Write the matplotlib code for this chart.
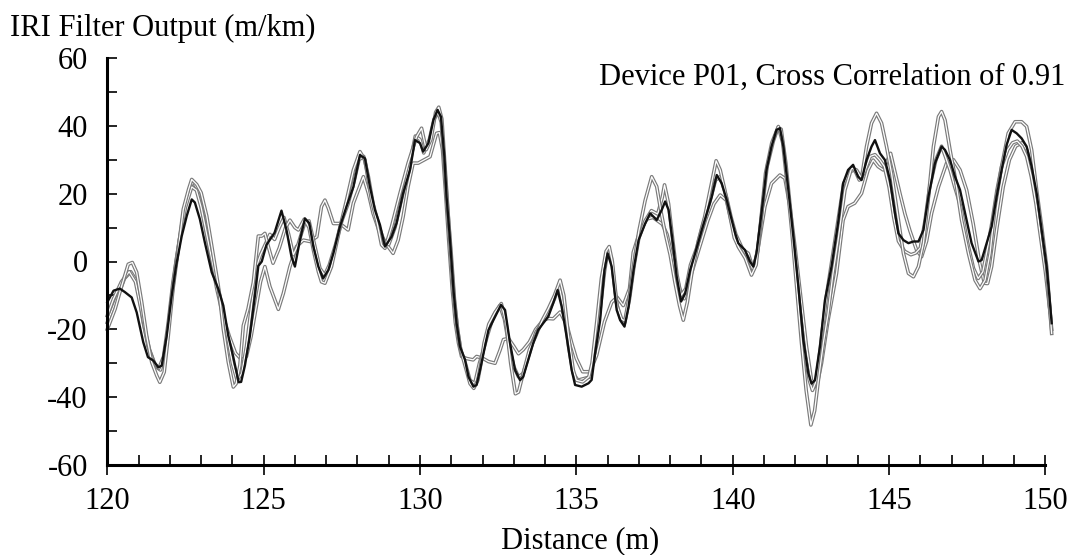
import matplotlib
matplotlib.use("Agg")
import matplotlib.pyplot as plt
import matplotlib.patheffects as pe
from matplotlib.ticker import MultipleLocator

# ---------------- data ----------------
dist_ref = [120.0, 120.2, 120.4, 120.56, 120.78, 120.94, 121.15, 121.3, 121.47, 121.63, 121.74, 121.9,
            122.06, 122.2, 122.38, 122.54, 122.7, 122.8, 122.96, 123.12, 123.34, 123.55, 123.71, 123.87,
            124.03, 124.2, 124.28, 124.4, 124.56, 124.72, 124.83, 124.94, 125.09, 125.35, 125.57, 125.73,
            125.89, 126.0, 126.16, 126.32, 126.46, 126.59, 126.75, 126.9, 127.07, 127.23, 127.44, 127.65,
            127.87, 128.08, 128.24, 128.4, 128.56, 128.72, 128.88, 129.09, 129.25, 129.46, 129.68, 129.84,
            130.0, 130.1, 130.27, 130.43, 130.56, 130.67, 130.78, 130.85, 130.96, 131.07, 131.17, 131.28,
            131.44, 131.55, 131.71, 131.81, 131.92, 132.03, 132.19, 132.4, 132.59, 132.72, 132.88, 133.04,
            133.2, 133.3, 133.46, 133.62, 133.78, 133.94, 134.1, 134.26, 134.4, 134.53, 134.69, 134.85,
            134.96, 135.17, 135.39, 135.49, 135.6, 135.76, 135.9, 136.0, 136.13, 136.29, 136.4, 136.54,
            136.67, 136.83, 136.99, 137.2, 137.36, 137.57, 137.73, 137.84, 137.95, 138.1, 138.21, 138.35,
            138.48, 138.64, 138.8, 139.01, 139.17, 139.33, 139.49, 139.65, 139.81, 139.97, 140.08, 140.18,
            140.39, 140.55, 140.66, 140.76, 140.92, 141.08, 141.24, 141.4, 141.51, 141.62, 141.78, 141.94,
            142.1, 142.26, 142.42, 142.52, 142.63, 142.79, 142.95, 143.16, 143.37, 143.53, 143.69, 143.85,
            144.01, 144.12, 144.28, 144.44, 144.55, 144.71, 144.87, 145.03, 145.19, 145.3, 145.46, 145.62,
            145.78, 145.94, 146.1, 146.26, 146.47, 146.68, 146.79, 146.95, 147.11, 147.27, 147.48, 147.64,
            147.86, 147.96, 148.12, 148.28, 148.44, 148.6, 148.76, 148.92, 149.08, 149.24, 149.4, 149.56,
            149.72, 149.88, 150.04, 150.12, 150.2]
iri_ref = [-12, -8.6, -8, -9, -10.6, -15, -23.8, -28.2, -29.2, -31.2, -30.7, -21.9,
           -10.1, -1.3, 7.5, 13.4, 18.3, 17.4, 12.5, 5.6, -3.2, -8.1, -13, -21.9,
           -28.2, -35.6, -35.5, -30.7, -21.9, -10.1, -1.3, 0, 4.9, 8.5, 15, 9.3,
           1.4, -1.5, 6.3, 12.7, 11.3, 4.4, -1.5, -5, -2.5, 2.4, 10.3, 16.2,
           22, 31.4, 30.4, 22, 15.2, 10.8, 4.4, 7.3, 11.3, 20.1, 27, 35.8,
           34.9, 32.4, 34.9, 41.7, 44.7, 42.7, 30.9, 19.1, 6.3, -8.4, -18.2, -25.1,
           -29, -34, -36.9, -36.4, -32, -27.1, -20.2, -16.3, -12.8, -14.3, -24.1, -32,
           -35, -34, -29, -24.1, -20.2, -18.2, -16.3, -12.3, -8.4, -13.3, -22.2, -32,
           -36.4, -36.9, -35.9, -34.9, -27.1, -17.3, -2.5, 2.4, -1.5, -14.3, -17.3, -19.2,
           -13.3, -2.5, 6.3, 11.2, 14.2, 12.2, 15.2, 17.7, 15.2, 4.4, -4.5, -11.8,
           -9.4, -2.5, 2.4, 9.3, 14.2, 19.1, 25.5, 23, 18.1, 12.2, 8.3, 5.4,
           3.4, 0, -1.5, 2.4, 14.2, 27, 33.9, 38.8, 39.3, 33.9, 21.1, 7.3,
           -7.4, -23.2, -33, -36, -35, -25.1, -11.4, -1.5, 11.3, 23, 27, 28.5,
           25, 24, 29.9, 33.9, 35.8, 31.9, 29.9, 24, 14.2, 8.3, 6.3, 5.4,
           5.9, 5.9, 9.3, 19.1, 29, 33.9, 32.9, 29.9, 25, 21.1, 12.2, 5.4,
           0, 0.4, 5.4, 10.3, 19.1, 27, 34.4, 38.8, 37.8, 36.3, 33.9, 28,
           20.1, 9.3, -1.5, -9.4, -18.2]

dist_run1 = [120.0, 120.25, 120.46, 120.67, 120.8, 120.94, 121.1, 121.26, 121.42, 121.58, 121.68, 121.82,
             121.95, 122.1, 122.27, 122.43, 122.6, 122.7, 122.86, 123.0, 123.18, 123.34, 123.55, 123.71,
             123.87, 124.03, 124.12, 124.24, 124.35, 124.5, 124.67, 124.83, 124.94, 125.04, 125.15, 125.3,
             125.5, 125.7, 125.84, 126.0, 126.11, 126.3, 126.45, 126.6, 126.75, 126.85, 126.96, 127.17,
             127.44, 127.65, 127.87, 128.08, 128.24, 128.45, 128.61, 128.77, 128.88, 129.09, 129.36, 129.62,
             129.89, 130.05, 130.2, 130.35, 130.5, 130.6, 130.7, 130.8, 130.9, 131.0, 131.1, 131.2,
             131.3, 131.45, 131.6, 131.72, 131.85, 131.95, 132.05, 132.2, 132.4, 132.6, 132.75, 132.9,
             133.05, 133.15, 133.3, 133.5, 133.7, 133.9, 134.1, 134.3, 134.48, 134.6, 134.75, 134.9,
             135.0, 135.2, 135.4, 135.5, 135.65, 135.8, 135.95, 136.05, 136.15, 136.3, 136.45, 136.55,
             136.7, 136.85, 137.0, 137.2, 137.41, 137.57, 137.7, 137.85, 138.0, 138.15, 138.3, 138.42,
             138.55, 138.7, 138.9, 139.1, 139.3, 139.47, 139.6, 139.75, 139.9, 140.05, 140.2, 140.4,
             140.6, 140.75, 140.9, 141.05, 141.25, 141.46, 141.6, 141.75, 141.9, 142.05, 142.2, 142.35,
             142.5, 142.62, 142.74, 142.9, 143.05, 143.2, 143.37, 143.59, 143.8, 143.96, 144.12, 144.28,
             144.44, 144.6, 144.76, 144.92, 145.08, 145.3, 145.46, 145.62, 145.78, 145.94, 146.1, 146.26,
             146.42, 146.58, 146.68, 146.79, 146.95, 147.11, 147.32, 147.54, 147.75, 147.91, 148.07, 148.23,
             148.39, 148.6, 148.81, 149.03, 149.24, 149.4, 149.56, 149.72, 149.88, 150.04, 150.2]
iri_run1 = [-20, -14, -7.2, -0.8, -0.3, -3.2, -12, -22, -29.7, -33.6, -35.6, -32.6,
            -21.9, -8.1, 3.6, 15.4, 21.3, 24.2, 22.7, 20.3, 13.4, 4.6, -7.2, -19.9,
            -29.7, -37, -36, -30.7, -18.9, -14, -6.2, 7.5, 7.5, 8.3, 4.4, -0.5,
            4, 10, 12.2, 10, 9.3, 12.5, 10, 3, -3, -6, -6.4, -1.5,
            10, 18.1, 27, 32.4, 29.9, 18.1, 12.2, 4.9, 3.9, 10.3, 20.1, 29,
            36.8, 39.3, 33, 36, 44, 45.5, 42, 28, 14, 0, -12, -20,
            -26, -31, -36, -37.4, -35, -30, -24, -18.5, -15, -12.4, -18, -30,
            -39, -38.5, -33, -26, -22, -17.5, -14, -10, -5.5, -10, -22, -32,
            -35, -35.5, -34, -30, -18, -5, 3, 4.4, 0, -13, -17, -17.5,
            -10, 0, 9, 18, 25, 22.1, 15, 8, 2, -6, -13, -17.3,
            -12, -3, 6, 13, 22, 29.7, 27, 21, 14, 7, 4, 1,
            -4, -1, 12, 26, 35, 39.8, 35, 22, 8, -8, -24, -38,
            -48.2, -44, -35, -24, -15.3, -4, 6.3, 21.1, 27.5, 27, 24.5, 33.9,
            40.8, 43.7, 40.8, 33.9, 26, 12.2, 2.4, -3.5, -4.5, -1.5, 5.4, 19.1,
            33.9, 42.7, 44.2, 41.7, 32.9, 25, 12.2, 2.4, -5.5, -8, -5.5, 2.4,
            16.2, 28, 37.8, 41.2, 41.2, 39.8, 32.9, 21.1, 10.3, -1.5, -21.2]

dist_run2 = [120.0, 120.2, 120.45, 120.7, 120.9, 121.1, 121.3, 121.5, 121.65, 121.8, 121.95, 122.1,
             122.3, 122.5, 122.7, 122.85, 123.0, 123.2, 123.4, 123.6, 123.8, 124.0, 124.15, 124.3,
             124.45, 124.6, 124.75, 124.9, 125.05, 125.2, 125.35, 125.5, 125.65, 125.8, 125.95, 126.1,
             126.3, 126.45, 126.6, 126.8, 126.95, 127.1, 127.3, 127.5, 127.7, 127.9, 128.05, 128.2,
             128.35, 128.5, 128.7, 128.85, 129.0, 129.2, 129.45, 129.7, 129.85, 130.0, 130.12, 130.3,
             130.45, 130.58, 130.68, 130.78, 130.88, 131.0, 131.1, 131.2, 131.3, 131.45, 131.6, 131.75,
             131.9, 132.0, 132.15, 132.35, 132.55, 132.7, 132.85, 133.0, 133.15, 133.3, 133.5, 133.7,
             133.9, 134.1, 134.3, 134.45, 134.6, 134.75, 134.9, 135.05, 135.25, 135.45, 135.6, 135.75,
             135.9, 136.0, 136.12, 136.28, 136.4, 136.55, 136.7, 136.85, 137.0, 137.2, 137.4, 137.6,
             137.75, 137.82, 137.95, 138.1, 138.22, 138.35, 138.5, 138.65, 138.85, 139.05, 139.25, 139.45,
             139.6, 139.8, 139.95, 140.1, 140.3, 140.5, 140.65, 140.8, 140.95, 141.1, 141.3, 141.45,
             141.55, 141.7, 141.85, 142.0, 142.15, 142.3, 142.45, 142.55, 142.68, 142.82, 143.0, 143.2,
             143.4, 143.55, 143.75, 143.9, 144.05, 144.2, 144.4, 144.55, 144.7, 144.85, 145.0, 145.15,
             145.3, 145.5, 145.7, 145.85, 146.0, 146.15, 146.3, 146.5, 146.68, 146.8, 146.95, 147.1,
             147.3, 147.5, 147.7, 147.85, 148.0, 148.15, 148.3, 148.45, 148.6, 148.8, 148.95, 149.1,
             149.25, 149.4, 149.55, 149.7, 149.85, 150.0, 150.15]
iri_run2 = [-16, -11, -6, -3, -6, -15, -25, -30, -31.5, -28, -18, -6,
            6, 16, 22, 21, 16, 7, -2, -10, -20, -30, -35, -33,
            -25, -14, -2, 2, 5, 8, 6.5, 10, 13, 8, 2, 5,
            11, 12, 6, -2, -4, -1, 5, 12, 17, 24, 30, 31,
            25, 17, 10, 6, 5, 10, 20, 30, 37, 36, 32, 36,
            42, 44, 41, 29, 16, 2, -11, -20, -26, -30, -35, -36,
            -30, -27, -22, -16, -13, -17, -25, -31, -34, -33, -27, -21,
            -18, -15, -11, -7, -14, -25, -33, -35, -34.5, -34, -26, -15,
            -3, 3, 1, -12, -16.5, -18, -11, -1, 7, 12, 15, 14,
            19, 22.6, 17, 5, -4, -10, -8, -1, 4, 11, 17, 24,
            25, 19, 13, 8, 4, 1, -2.5, 3, 16, 28, 35.5, 39.5,
            39, 29, 15, 0, -14, -27, -35, -38, -35, -24, -10, 2,
            14, 23, 26.5, 27, 24, 26, 31, 31.5, 30, 28, 22, 13,
            6, 3, 2, 2.5, 4, 12, 22, 30, 34, 31, 27, 22,
            16, 6, -2, -5, -3, 4, 12, 21, 28, 33, 35, 35.5,
            34, 31, 25, 17, 7, -3, -15]

dist_run3 = [120.0, 120.3, 120.55, 120.75, 120.95, 121.15, 121.35, 121.55, 121.7, 121.85, 122.0, 122.2,
             122.45, 122.65, 122.75, 122.9, 123.1, 123.3, 123.5, 123.7, 123.9, 124.1, 124.3, 124.45,
             124.6, 124.75, 124.9, 125.04, 125.2, 125.47, 125.63, 125.84, 126.05, 126.27, 126.48, 126.7,
             126.85, 126.96, 127.07, 127.23, 127.44, 127.7, 127.87, 128.03, 128.19, 128.35, 128.5, 128.72,
             128.98, 129.14, 129.3, 129.46, 129.62, 129.78, 129.94, 130.12, 130.32, 130.53, 130.62, 130.72,
             130.82, 130.92, 131.03, 131.13, 131.23, 131.33, 131.49, 131.7, 131.81, 132.0, 132.19, 132.4,
             132.56, 132.67, 132.83, 133.0, 133.15, 133.3, 133.5, 133.7, 133.94, 134.1, 134.26, 134.48,
             134.7, 134.85, 135.0, 135.2, 135.44, 135.65, 135.9, 136.13, 136.3, 136.5, 136.7, 136.82,
             137.0, 137.25, 137.45, 137.6, 137.75, 137.9, 138.1, 138.3, 138.45, 138.6, 138.8, 139.0,
             139.2, 139.4, 139.6, 139.8, 139.95, 140.18, 140.5, 140.66, 140.82, 141.03, 141.24, 141.51,
             141.67, 141.83, 141.99, 142.15, 142.36, 142.52, 142.68, 142.84, 143.05, 143.32, 143.53, 143.69,
             143.9, 144.12, 144.33, 144.49, 144.65, 144.81, 145.05, 145.2, 145.35, 145.51, 145.67, 145.88,
             146.04, 146.2, 146.36, 146.58, 146.84, 147.06, 147.27, 147.48, 147.69, 147.9, 148.05, 148.15,
             148.28, 148.45, 148.65, 148.85, 149.05, 149.25, 149.4, 149.56, 149.72, 149.88, 150.04, 150.2]
iri_run3 = [-18, -11, -5, -3, -6, -18, -26, -31, -32, -27, -15, 0,
            15, 22, 23.5, 21, 12, 2, -8, -16, -22, -27, -29, -28,
            -22, -14, -6, -1.5, -7.4, -14.1, -9.4, -1.5, 4.4, 6.3, 5.9, 7.3,
            16.2, 18.1, 15.7, 11.2, 11.2, 9.3, 17.2, 21.1, 25, 20.1, 14.2, 8.3,
            4.4, 2.4, 6.3, 13.2, 22.1, 29, 29, 29.9, 30.9, 37.8, 38, 33,
            20, 6, -8, -18, -24, -28, -28.6, -29, -28, -28.5, -29.5, -30,
            -26.1, -23, -22.7, -25, -27.2, -26, -23.7, -20, -17.3, -16.8, -16.9, -14.9,
            -18.8, -24, -28.6, -32.5, -32.5, -27.6, -17.8, -12, -10.5, -13, -8, 2.7,
            8, 12.5, 13, 12, 11, 8, 0, -8, -11, -6, 0, 6,
            12, 17, 19.6, 18, 12, 4.4, 2.4, -2.5, 4.4, 16.2, 23, 25.5,
            24.5, 16.2, 4.4, -8.4, -25.1, -35, -37, -30, -17.3, -3.5, 12.2, 16.2,
            17.2, 20.1, 27, 29.9, 28, 27, 31.9, 26, 20, 14, 9, 3.4,
            1.4, 6, 14.2, 22, 29, 30, 27, 21.1, 11.2, -0.5, -6.4, -6.5,
            -1.5, 10, 22, 30, 34, 35, 33, 27, 18, 7, -4, -20]

x_ticks = [120, 125, 130, 135, 140, 145, 150]
y_ticks = [-60, -40, -20, 0, 20, 40, 60]

# ---------------- figure ----------------
plt.rcParams['font.family'] = ['Liberation Serif', 'DejaVu Serif']
fig = plt.figure(figsize=(10.74, 5.55), dpi=100)
ax = fig.add_axes([107.3 / 1074, 1 - 465 / 555, 938.1 / 1074, 407 / 555])

hollow = [pe.Stroke(linewidth=2.6, foreground='#7a7a7a'), pe.Normal()]
for dx, dy in [(dist_run3, iri_run3), (dist_run2, iri_run2), (dist_run1, iri_run1)]:
    ax.plot(dx, dy, color='white', lw=0.9, path_effects=hollow, clip_on=False,
            solid_joinstyle='round')
ax.plot(dist_ref, iri_ref, color='#111111', lw=1.7, clip_on=False, solid_joinstyle='round')

ax.set_xlim(120, 150)
ax.set_ylim(-60, 60)
ax.set_xticks(x_ticks)
ax.set_yticks(y_ticks)
ax.set_xticklabels([str(v) for v in x_ticks])
ax.set_yticklabels([str(v) for v in y_ticks])
ax.xaxis.set_minor_locator(MultipleLocator(1))
ax.yaxis.set_minor_locator(MultipleLocator(10))

for s in ['top', 'right']:
    ax.spines[s].set_visible(False)
for s in ['left', 'bottom']:
    ax.spines[s].set_linewidth(2.2)
    ax.spines[s].set_color('black')

ax.tick_params(axis='x', which='major', direction='inout', length=15, width=1.2,
               labelsize=22, pad=8)
ax.tick_params(axis='x', which='minor', direction='in', length=7, width=1.2)
ax.tick_params(axis='y', which='major', direction='in', length=7, width=1.2,
               labelsize=22, pad=14)
ax.tick_params(axis='y', which='minor', direction='in', length=7, width=1.2)

fig.text(10 / 1074, 1 - 36 / 555, 'IRI Filter Output (m/km)', fontsize=22,
         ha='left', va='baseline')
fig.text(1065 / 1074, 1 - 85 / 555, 'Device P01, Cross Correlation of 0.91', fontsize=22,
         ha='right', va='baseline')
fig.text(580 / 1074, 1 - 548 / 555, 'Distance (m)', fontsize=22,
         ha='center', va='baseline')

fig.savefig('out.png', dpi=100)
